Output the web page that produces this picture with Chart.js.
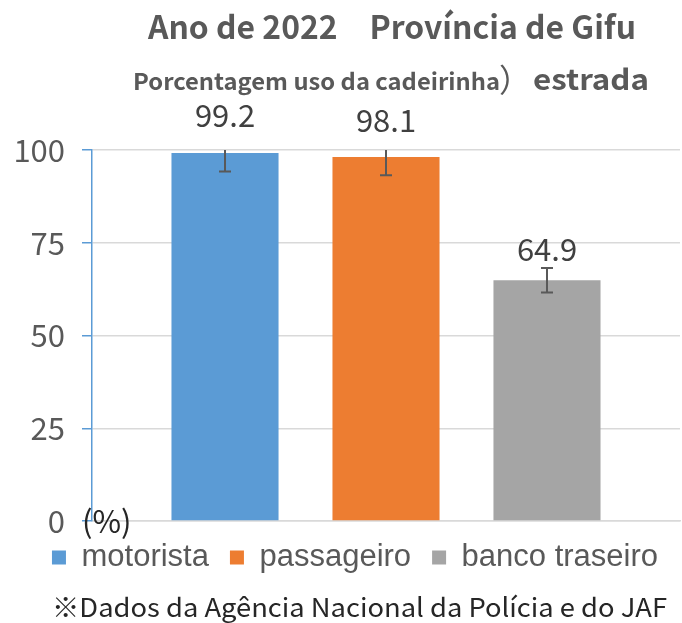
<!DOCTYPE html>
<html>
<head>
<meta charset="utf-8">
<script src="https://cdn.jsdelivr.net/npm/chart.js@4.4.1/dist/chart.umd.min.js"></script>
<style>
html,body{margin:0;padding:0;background:#fff;}
#wrap{width:682px;height:623px;}
</style>
</head>
<body>
<div id="wrap"><canvas id="c" width="682" height="623"></canvas></div>
<script>
// ---- data ----
const seriesNames = ['motorista', 'passageiro', 'banco traseiro'];
const seriesValues = [99.2, 98.1, 64.9];
const seriesErrors = [5.0, 4.9, 3.3];
const seriesColors = ['#5B9BD5', '#ED7D31', '#A5A5A5'];
const yTicks = [0, 25, 50, 75, 100];
const titleLine1 = 'Ano de 2022\u3000Província de Gifu';
const titleLine2a = 'Porcentagem uso da cadeirinha';
const titleLine2b = '）';
const titleLine2c = 'estrada';
const unitLabel = '(%)';
const footnote = '※Dados da Agência Nacional da Polícia e do JAF';

const JP = '"Noto Sans CJK JP", "Noto Sans", sans-serif';

function drawScaled(ctx, text, font, x, y, targetW, align) {
  ctx.save();
  ctx.font = font;
  const w = ctx.measureText(text).width;
  const sx = targetW ? targetW / w : 1;
  ctx.textBaseline = 'alphabetic';
  ctx.textAlign = 'left';
  let x0 = x;
  if (align === 'center') x0 = x - (w * sx) / 2;
  ctx.translate(x0, y);
  ctx.scale(sx, 1);
  ctx.fillText(text, 0, 0);
  ctx.restore();
  return w * sx;
}

const decorPlugin = {
  id: 'decor',
  afterLayout(chart) {
    // let the y-axis labels use the space left of the layout padding
    const ys = chart.scales.y;
    ys.width = ys.right;
    ys.left = 0;
  },
  afterDatasetsDraw(chart) {
    const ctx = chart.ctx;
    const ys = chart.scales.y;
    const area = chart.chartArea;
    // error bars
    ctx.save();
    ctx.beginPath();
    ctx.rect(area.left, area.top, area.right - area.left, area.bottom - area.top);
    ctx.clip();
    ctx.strokeStyle = '#595959';
    ctx.lineWidth = 2;
    chart.data.datasets.forEach((ds, i) => {
      const el = chart.getDatasetMeta(i).data[0];
      const v = ds.data[0];
      const e = seriesErrors[i];
      const yTop = ys.getPixelForValue(v + e);
      const yBot = ys.getPixelForValue(v - e);
      ctx.beginPath();
      ctx.moveTo(el.x, yTop); ctx.lineTo(el.x, yBot);
      ctx.moveTo(el.x - 6, yTop); ctx.lineTo(el.x + 6, yTop);
      ctx.moveTo(el.x - 6, yBot); ctx.lineTo(el.x + 6, yBot);
      ctx.stroke();
    });
    ctx.restore();
    // value labels
    ctx.save();
    ctx.fillStyle = '#404040';
    ctx.font = '31px ' + JP;
    ctx.textAlign = 'center';
    ctx.textBaseline = 'middle';
    chart.data.datasets.forEach((ds, i) => {
      const el = chart.getDatasetMeta(i).data[0];
      const v = ds.data[0];
      const y = ys.getPixelForValue(v + seriesErrors[i]) - 19;
      ctx.fillText(v.toFixed(1), el.x, y);
    });
    ctx.restore();
    // unit label
    ctx.save();
    ctx.fillStyle = '#262626';
    ctx.font = '31px ' + JP;
    ctx.textAlign = 'left';
    ctx.textBaseline = 'middle';
    ctx.fillText(unitLabel, area.left - 10, area.bottom);
    ctx.restore();
  },
  afterDraw(chart) {
    const ctx = chart.ctx;
    ctx.save();
    ctx.fillStyle = '#595959';
    drawScaled(ctx, titleLine1, 'bold 32px ' + JP, 392, 39, 488, 'center');
    // line 2
    drawScaled(ctx, titleLine2a, 'bold 23px ' + JP, 133, 90, 367, 'left');
    ctx.font = '32px ' + JP;
    ctx.textAlign = 'left';
    ctx.textBaseline = 'alphabetic';
    ctx.fillText(titleLine2b, 499, 92);
    drawScaled(ctx, titleLine2c, 'bold 29px ' + JP, 533, 90, 116, 'left');
    // footnote
    ctx.fillStyle = '#262626';
    drawScaled(ctx, footnote, '26px ' + JP, 52, 617, 615, 'left');
    ctx.restore();
  }
};

const datasets = seriesNames.map((name, i) => ({
  label: name,
  data: [seriesValues[i]],
  backgroundColor: seriesColors[i],
  borderWidth: 0,
  categoryPercentage: 0.8214,
  barPercentage: 0.665
}));

new Chart(document.getElementById('c'), {
  type: 'bar',
  data: { labels: [''], datasets },
  plugins: [decorPlugin],
  options: {
    responsive: false,
    animation: false,
    devicePixelRatio: 1,
    layout: { padding: { top: 150, right: 2, left: 30, bottom: 40 } },
    plugins: {
      title: { display: false },
      tooltip: { enabled: false },
      legend: {
        position: 'bottom',
        labels: {
          boxWidth: 14,
          boxHeight: 14,
          padding: 21,
          color: '#595959',
          font: { size: 31, family: '"Liberation Sans", Arial, sans-serif' }
        }
      }
    },
    scales: {
      x: {
        grid: { display: false, drawTicks: false },
        border: { display: true, color: '#D9D9D9', width: 1.5 },
        ticks: { display: false },
        afterFit(s) { s.height = 0; }
      },
      y: {
        min: 0,
        max: 100,
        afterBuildTicks(s) { s.ticks = yTicks.map(v => ({ value: v })); },
        afterFit(s) { s.width = 62; },
        grid: { color: '#D9D9D9', lineWidth: 1.5, tickColor: '#5B9BD5', tickLength: 10, tickWidth: 1.5 },
        border: { display: true, color: '#5B9BD5', width: 1.5 },
        ticks: {
          color: '#595959',
          padding: 17,
          font: { size: 31, family: JP }
        }
      }
    }
  }
});
</script>
</body>
</html>
